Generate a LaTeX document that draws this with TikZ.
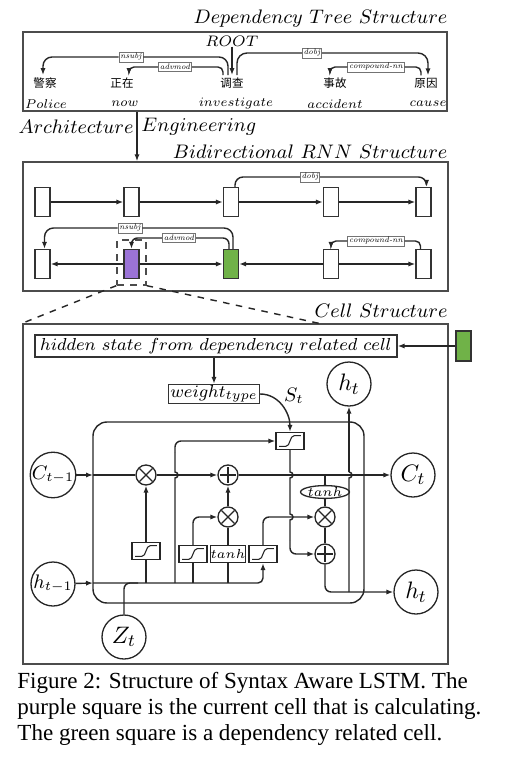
\documentclass[tikz,border=0pt]{standalone}
\usepackage[no-math]{fontspec}
\newfontfamily\capfont{Liberation Serif}
\newfontfamily\cjk{Noto Sans CJK SC}
\usetikzlibrary{arrows.meta,calc,shapes.geometric}
\definecolor{cellpurple}{RGB}{155,115,215}
\definecolor{cellgreen}{RGB}{112,178,72}
\newdimen\pxu \pxu=0.46pt
\newcommand{\enword}[1]{\scalebox{0.84}{$#1$}}
\tikzset{
 ln/.style={line width=0.65pt, draw=black!85},
 arr/.style={ln, -{Latex[length=3.2pt,width=2.4pt]}},
 frm/.style={draw=black!70, line width=0.7pt, inner sep=0},
 rcell/.style={draw=black!80, line width=0.6pt, minimum width=15\pxu, minimum height=29\pxu, inner sep=0, fill=white},
 dlab/.style={draw=black!55, line width=0.4pt, fill=white, inner sep=0.7pt, font=\itshape\fontsize{3.6}{4}\selectfont},
 ttl/.style={inner sep=0, font=\fontsize{9}{11}\selectfont},
 zh/.style={inner sep=1pt, font=\cjk\fontsize{5.3}{6}\selectfont},
 en/.style={inner sep=0, font=\fontsize{7}{8}\selectfont},
 sgm/.style={draw=black!85, line width=0.6pt, minimum width=28\pxu, minimum height=17\pxu, inner sep=0, fill=white,
   path picture={\draw[line width=0.5pt] let \p0=(path picture bounding box.center) in
     (\x0-5pt,\y0-2.5pt) -- (\x0-2pt,\y0-2.5pt) .. controls (\x0+0.3pt,\y0-2.5pt) and (\x0-0.3pt,\y0+2.5pt) .. (\x0+2pt,\y0+2.5pt) -- (\x0+5pt,\y0+2.5pt);}},
 tbox/.style={draw=black!85, line width=0.6pt, minimum width=28\pxu, minimum height=17\pxu, inner sep=0, fill=white, font=\fontsize{6}{7}\selectfont},
 opc/.style={circle, draw=black!85, line width=0.6pt, minimum size=20\pxu, inner sep=0, fill=white},
 mulop/.style={opc, path picture={\draw[line width=0.6pt] let \p0=(path picture bounding box.center) in
     (\x0-3pt,\y0-3pt) -- (\x0+3pt,\y0+3pt) (\x0-3pt,\y0+3pt) -- (\x0+3pt,\y0-3pt);}},
 addop/.style={opc, path picture={\draw[line width=0.6pt] let \p0=(path picture bounding box.center) in
     (\x0-3.6pt,\y0) -- (\x0+3.6pt,\y0) (\x0,\y0-3.6pt) -- (\x0,\y0+3.6pt);}},
 bigc/.style={circle, draw=black!85, line width=0.6pt, minimum size=44\pxu, inner sep=0},
 capt/.style={anchor=base west, inner sep=0, font=\capfont\fontsize{10.6}{12.7}\selectfont},
}
\begin{document}
\begin{tikzpicture}[x=0.46pt,y=-0.46pt]
\useasboundingbox (0,0) rectangle (529,760);

% ---------- Dependency tree ----------
\node[frm, minimum width=424\pxu, minimum height=79\pxu] (box1) at (235,71.5) {};
\node[ttl, anchor=east] (ttl1) at (448,19) {$Dependency\ Tree\ Structure$};
\node[inner sep=0, font=\fontsize{7}{8}\selectfont] (root) at (232,41) {$ROOT$};
\node[zh] (z1) at (45,83) {警察};
\node[zh] (z2) at (122,83) {正在};
\node[zh] (z3) at (232,83) {调查};
\node[zh] (z4) at (335,83) {事故};
\node[zh] (z5) at (426,83) {原因};
\node[en] (e1) at (46,104) {\enword{Police}};
\node[en] (e2) at (125,104) {\enword{now}};
\node[en] (e3) at (236,104) {\enword{investigate}};
\node[en] (e4) at (335,104) {\enword{accident}};
\node[en] (e5) at (428,104) {\enword{cause}};
\node[dlab] (l1) at (131,57) {nsubj};
\node[dlab] (l2) at (175,67) {advmod};
\node[dlab] (l3) at (312,53) {dobj};
\node[dlab] (l4) at (376,67) {compound-nn};
\draw[ln, rounded corners=9\pxu] ($(z3.north)+(-4,0)$) |- (l1.east);
\draw[arr, rounded corners=9\pxu] (l1.west) -| ($(z1.north)+(-2,0)$);
\draw[ln, rounded corners=5\pxu] ($(z3.north)+(-9,0)$) |- (l2.east);
\draw[arr, rounded corners=5\pxu] (l2.west) -| ($(z2.north)+(7,0)$);
\draw[arr] (root.south) -- (z3.north);
\draw[ln, rounded corners=10\pxu] ($(z3.north)+(5,0)$) |- (l3.west);
\draw[arr, rounded corners=10\pxu] (l3.east) -| ($(z5.north)+(2,0)$);
\draw[ln, rounded corners=5\pxu] ($(z5.north)+(-5,0)$) |- (l4.east);
\draw[arr, rounded corners=5\pxu] (l4.west) -| ($(z4.north)+(-5,0)$);

% ---------- Architecture engineering ----------
\node[frm, minimum width=425\pxu, minimum height=129\pxu] (box2) at (235.5,226.5) {};
\coordinate (ax) at (137,0);
\draw[arr] (box1.south -| ax) -- (box2.north -| ax);
\node[ttl, anchor=east] (arch1) at (134,127) {$Architecture$};
\node[ttl, anchor=west] (arch2) at (141,127) {$Engineering$};

% ---------- Bidirectional RNN ----------
\node[ttl, anchor=east] (ttl2) at (448,152) {$Bidirectional\ RNN\ Structure$};
\node[draw=black!70, dashed, line width=0.6pt, minimum width=29\pxu, minimum height=45\pxu, inner sep=0] (dbx) at (131.5,262.5) {};
\node[rcell] (a1) at (42.5,202) {};
\node[rcell] (a2) at (131.5,202) {};
\node[rcell] (a3) at (231,202) {};
\node[rcell] (a4) at (331,202) {};
\node[rcell] (a5) at (423.5,202) {};
\node[rcell] (b1) at (42.5,264) {};
\node[rcell, fill=cellpurple] (b2) at (131.5,264) {};
\node[rcell, fill=cellgreen] (b3) at (231,264) {};
\node[rcell] (b4) at (331,264) {};
\node[rcell] (b5) at (423.5,264) {};
\draw[arr] (a1) -- (a2);
\draw[arr] (a2) -- (a3);
\draw[arr] (a3) -- (a4);
\draw[arr] (a4) -- (a5);
\draw[arr] (b2) -- (b1);
\draw[arr] (b2) -- (b3);
\draw[arr] (b4) -- (b3);
\draw[arr] (b4) -- (b5);
\node[dlab] (m1) at (310,177) {dobj};
\node[dlab] (m2) at (130,228) {nsubj};
\node[dlab] (m3) at (179,238) {advmod};
\node[dlab] (m4) at (376,241) {compound-nn};
\draw[ln, rounded corners=8\pxu] ($(a3.north)+(4,0)$) |- (m1.west);
\draw[arr, rounded corners=8\pxu] (m1.east) -| ($(a5.north)+(3,0)$);
\draw[ln, rounded corners=9\pxu] ($(b3.north)+(2,0)$) |- (m2.east);
\draw[arr, rounded corners=9\pxu] (m2.west) -| ($(b1.north)+(2,0)$);
\draw[ln, rounded corners=6\pxu] ($(b3.north)+(-2,0)$) |- (m3.east);
\draw[arr, rounded corners=6\pxu] (m3.west) -| (b2.north);
\draw[ln, rounded corners=5\pxu] ($(b5.north)+(-3,0)$) |- (m4.east);
\draw[arr, rounded corners=5\pxu] (m4.west) -| (b4.north);

% ---------- Cell structure ----------
\node[frm, minimum width=425\pxu, minimum height=340\pxu] (box3) at (235.5,494) {};
\node[ttl, anchor=east] (ttl3) at (448,311) {$Cell\ Structure$};
\coordinate (dr) at (322,324);
\draw[ln, dashed] (dbx.south west) -- (box3.north west);
\draw[ln, dashed] (dbx.south east) -- (dr);

\node[rcell, fill=cellgreen, minimum height=30\pxu] (g2) at (463.5,346) {};
\node[draw=black!80, line width=0.6pt, minimum width=362\pxu, minimum height=22\pxu, inner sep=0, font=\fontsize{8}{10}\selectfont] (hid) at (216,346) {$hidden\ state\ from\ dependency\ related\ cell$};
\node[draw=black!80, line width=0.6pt, minimum width=91\pxu, minimum height=19\pxu, inner sep=0, font=\fontsize{8}{10}\selectfont] (wt) at (214,394) {$weight_{type}$};
\node[inner sep=0, font=\fontsize{9}{11}\selectfont] (st) at (294,396) {$S_t$};
\draw[arr] (g2.west) -- (hid.east);
\draw[arr] (wt.north |- hid.south) -- (wt.north);

\draw[ln, rounded corners=14\pxu] (93,422) rectangle (364,603);

\node[bigc, font=\fontsize{9}{11}\selectfont] (cp) at (53,475) {$C_{t-1}$};
\node[bigc, font=\fontsize{9}{11}\selectfont] (hp) at (53,584) {$h_{t-1}$};
\node[bigc, font=\fontsize{10.95}{13}\selectfont] (zt) at (124,637) {$Z_t$};
\node[bigc, font=\fontsize{10.95}{13}\selectfont] (ct) at (413,475) {$C_t$};
\node[bigc, font=\fontsize{10.95}{13}\selectfont] (ht) at (416,592) {$h_t$};
\node[bigc, font=\fontsize{10.95}{13}\selectfont] (htop) at (349,384) {$h_t$};

\node[sgm] (sgt) at (290,441) {};
\node[sgm] (sg1) at (146,551) {};
\node[sgm] (sg2) at (193,554) {};
\node[tbox] (tb) at (228,554) {$tanh$};
\node[sgm] (sg3) at (263,554) {};
\node[mulop] (x1) at (146,475) {};
\node[addop] (p1) at (228,475) {};
\node[mulop] (x2) at (228,517) {};
\node[mulop] (x3) at (325,517) {};
\node[addop] (p3) at (325,554) {};
\node[ellipse, draw=black!85, line width=0.6pt, minimum width=40\pxu, minimum height=11\pxu, inner sep=0, fill=white, font=\fontsize{6}{7}\selectfont] (te) at (325,492) {$tanh$};

\draw[arr] (wt.east) to[out=0,in=90] (sgt.north);

\coordinate (cin) at (93,475);
\coordinate (hin) at (93,583);
\coordinate (zj) at (138,583);
\draw[arr] (cp) -- (cin);
\draw[ln] (cin) -- (x1);
\draw[arr] (x1) -- (p1);
\draw[arr] (p1) -- (ct);
\draw[arr] (hp) -- (hin);
\draw[arr, rounded corners=5\pxu] (hin) -| (sg3.south);
\draw[ln, rounded corners=6\pxu] (zt.north) |- (zj);
% forget gate
\draw[ln] (sg1.south |- hin) -- (sg1.south);
\draw[arr] (sg1.north) -- (x1.south);
% line to top gate
\coordinate (v1) at (175,583);
\draw[ln] (v1) -- (175,478) arc[start angle=90,end angle=-90,radius=3] -- (175,452);
\draw[arr, rounded corners=6\pxu] (175,452) |- (sgt.west);
% input gate
\draw[ln] (sg2.south |- hin) -- (sg2.south);
\draw[arr, rounded corners=6\pxu] (sg2.north) |- (x2.west);
\draw[ln] (tb.south |- hin) -- (tb.south);
\draw[ln] (tb.north) -- (x2.south);
\draw[arr] (x2.north) -- (p1.south);
% output gate
\draw[arr, rounded corners=6\pxu] (sg3.north) |- (x3.west);
\draw[ln] (te.north |- cin) -- (te.north);
\draw[ln] (te.south) -- (x3.north);
\draw[ln] (x3.south) -- (p3.north);
% top gate down
\draw[ln] (sgt.south) -- (290,472) arc[start angle=-90,end angle=90,radius=3] -- (290,514) arc[start angle=-90,end angle=90,radius=3] -- (290,540);
\draw[arr, rounded corners=6\pxu] (290,540) |- (p3.west);
% output
\draw[arr, rounded corners=6\pxu] (p3.south) |- (ht.west);
\draw[ln] (349,592) -- (349,478) arc[start angle=90,end angle=-90,radius=3];
\draw[arr] (349,472) -- (htop.south);

% ---------- caption ----------
\node[capt] (cap1) at (17,688) {Figure 2: Structure of Syntax Aware LSTM. The};
\node[capt] (cap2) at (17,714) {purple square is the current cell that is calculating.};
\node[capt] (cap3) at (17,740) {The green square is a dependency related cell.};
\end{tikzpicture}
\end{document}
